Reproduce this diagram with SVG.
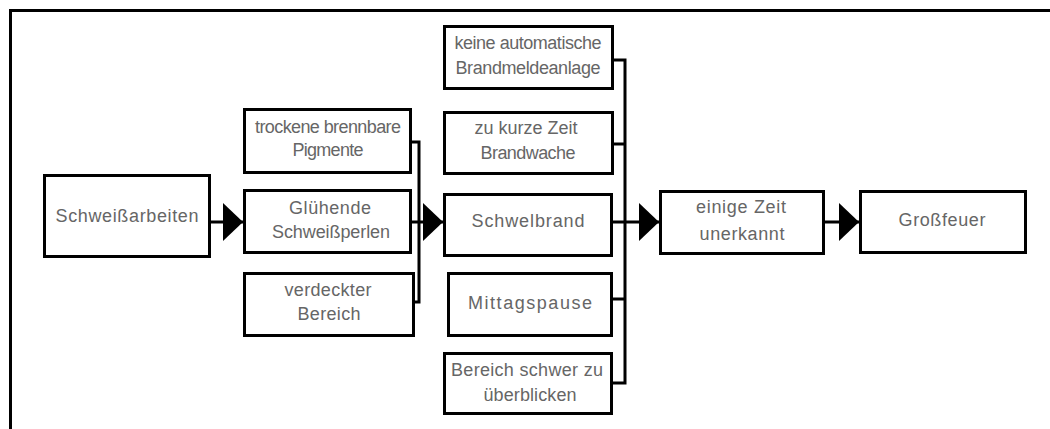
<svg xmlns="http://www.w3.org/2000/svg" width="1050" height="429" viewBox="0 0 1050 429">
  <style>
    .box { fill: #ffffff; stroke: #000000; stroke-width: 3; }
    .lbl { font-family: "Liberation Sans", Arial, sans-serif; font-size: 18px; fill: #666666; text-anchor: middle; }
    .wire { fill: none; stroke: #000000; stroke-width: 3; }
    .frame { fill: none; stroke: #000000; stroke-width: 3; }
  </style>
  <defs>
    <marker id="head" markerUnits="userSpaceOnUse" markerWidth="20" markerHeight="38" refX="20" refY="19" orient="auto">
      <path d="M0,0 L20,19 L0,38 Z" fill="#000000"/>
    </marker>
  </defs>

  <rect width="1050" height="429" fill="#ffffff"/>
  <path class="frame" d="M10.5,429 V10.5 H1050"/>

  <g id="connectors">
    <line class="wire" x1="211" y1="222" x2="243" y2="222" marker-end="url(#head)"/>
    <path class="wire" d="M412,142 H419 V302 H414"/>
    <line class="wire" x1="412" y1="222" x2="443" y2="222" marker-end="url(#head)"/>
    <path class="wire" d="M613,60 H625 V383 H613"/>
    <line class="wire" x1="613" y1="144" x2="625" y2="144"/>
    <line class="wire" x1="612" y1="299" x2="625" y2="299"/>
    <line class="wire" x1="613" y1="222" x2="659" y2="222" marker-end="url(#head)"/>
    <line class="wire" x1="825" y1="222" x2="859" y2="222" marker-end="url(#head)"/>
  </g>

  <g id="schweissarbeiten">
    <rect class="box" x="44.5" y="175.5" width="165" height="81"/>
    <text class="lbl" x="127" y="222" textLength="143">Schweißarbeiten</text>
  </g>

  <g id="pigmente">
    <rect class="box" x="244.5" y="109.5" width="166" height="63"/>
    <text class="lbl" x="328" y="133" textLength="146">trockene brennbare</text>
    <text class="lbl" x="328" y="156" textLength="71">Pigmente</text>
  </g>

  <g id="schweissperlen">
    <rect class="box" x="244.5" y="190.5" width="166" height="62"/>
    <text class="lbl" x="330" y="214" textLength="82">Glühende</text>
    <text class="lbl" x="331" y="238" textLength="118">Schweißperlen</text>
  </g>

  <g id="verdeckt">
    <rect class="box" x="244.5" y="273.5" width="169" height="62"/>
    <text class="lbl" x="328" y="296" textLength="87">verdeckter</text>
    <text class="lbl" x="329" y="320" textLength="63">Bereich</text>
  </g>

  <g id="brandmeldeanlage">
    <rect class="box" x="444.5" y="26.5" width="168" height="62"/>
    <text class="lbl" x="528" y="49" textLength="147">keine automatische</text>
    <text class="lbl" x="528" y="74" textLength="145">Brandmeldeanlage</text>
  </g>

  <g id="brandwache">
    <rect class="box" x="444.5" y="112.5" width="168" height="61"/>
    <text class="lbl" x="526" y="134" textLength="103">zu kurze Zeit</text>
    <text class="lbl" x="528" y="159" textLength="95">Brandwache</text>
  </g>

  <g id="schwelbrand">
    <rect class="box" x="444.5" y="194.5" width="167" height="61"/>
    <text class="lbl" x="528" y="227" textLength="113">Schwelbrand</text>
  </g>

  <g id="mittagspause">
    <rect class="box" x="448.5" y="273.5" width="163" height="62"/>
    <text class="lbl" x="530" y="309" textLength="124">Mittagspause</text>
  </g>

  <g id="unuebersichtlich">
    <rect class="box" x="444.5" y="353.5" width="167" height="60"/>
    <text class="lbl" x="527" y="376" textLength="152">Bereich schwer zu</text>
    <text class="lbl" x="530" y="401" textLength="93">überblicken</text>
  </g>

  <g id="unerkannt">
    <rect class="box" x="660.5" y="191.5" width="163" height="62"/>
    <text class="lbl" x="741" y="213" textLength="90">einige Zeit</text>
    <text class="lbl" x="742" y="240" textLength="85">unerkannt</text>
  </g>

  <g id="grossfeuer">
    <rect class="box" x="860.5" y="191.5" width="165" height="61"/>
    <text class="lbl" x="942" y="226" textLength="87">Großfeuer</text>
  </g>
</svg>
